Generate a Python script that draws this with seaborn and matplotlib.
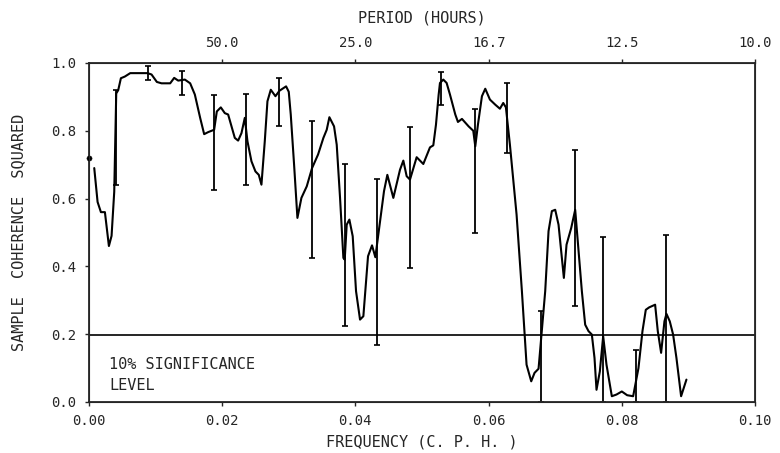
import matplotlib
matplotlib.use("Agg")
import matplotlib.pyplot as plt
import seaborn as sns
import pandas as pd

# ---- data ----
freq = [0.0008, 0.0013, 0.0018, 0.0024, 0.0030, 0.0034, 0.0038, 0.0041, 0.0044, 0.0048,
        0.0054, 0.0062, 0.0088, 0.0094, 0.0102, 0.0109, 0.0122, 0.0128, 0.0134, 0.0144,
        0.0152, 0.0159, 0.0167, 0.0173, 0.0179, 0.0188, 0.0192, 0.0198, 0.0204, 0.0209,
        0.0219, 0.0224, 0.0229, 0.0234, 0.0238, 0.0244, 0.0250, 0.0255, 0.0259, 0.0264,
        0.0268, 0.0273, 0.0280, 0.0286, 0.0296, 0.0300, 0.0303, 0.0308, 0.0313, 0.0319,
        0.0327, 0.0335, 0.0344, 0.0352, 0.0357, 0.0361, 0.0368, 0.0372, 0.0377, 0.0382,
        0.0384, 0.0387, 0.0391, 0.0396, 0.0401, 0.0407, 0.0412, 0.0419, 0.0425, 0.0430,
        0.0439, 0.0443, 0.0448, 0.0457, 0.0467, 0.0472, 0.0477, 0.0482, 0.0492, 0.0502,
        0.0512, 0.0517, 0.0521, 0.0525, 0.0527, 0.0532, 0.0537, 0.0542, 0.0550, 0.0554,
        0.0560, 0.0570, 0.0577, 0.0580, 0.0584, 0.0590, 0.0595, 0.0602, 0.0610, 0.0617,
        0.0622, 0.0626, 0.0632, 0.0642, 0.0650, 0.0657, 0.0664, 0.0669, 0.0675, 0.0685,
        0.0690, 0.0695, 0.0700, 0.0705, 0.0713, 0.0717, 0.0724, 0.0730, 0.0740, 0.0745,
        0.0750, 0.0755, 0.0759, 0.0762, 0.0767, 0.0772, 0.0777, 0.0785, 0.0792, 0.0800,
        0.0808, 0.0817, 0.0825, 0.0831, 0.0836, 0.0841, 0.0850, 0.0854, 0.0859, 0.0864,
        0.0867, 0.0872, 0.0877, 0.0882, 0.0889, 0.0897]
coherence = [0.69, 0.59, 0.56, 0.56, 0.46, 0.49, 0.62, 0.91, 0.92, 0.955,
             0.96, 0.97, 0.97, 0.966, 0.944, 0.94, 0.94, 0.956, 0.948, 0.951,
             0.94, 0.907, 0.838, 0.79, 0.796, 0.803, 0.857, 0.869, 0.852, 0.848,
             0.779, 0.771, 0.793, 0.838, 0.769, 0.71, 0.68, 0.67, 0.641, 0.769,
             0.887, 0.921, 0.902, 0.918, 0.931, 0.915, 0.848, 0.70, 0.543, 0.602,
             0.636, 0.69, 0.73, 0.779, 0.803, 0.84, 0.813, 0.759, 0.602, 0.425,
             0.42, 0.523, 0.538, 0.489, 0.327, 0.243, 0.253, 0.43, 0.462, 0.427,
             0.563, 0.622, 0.67, 0.602, 0.685, 0.712, 0.666, 0.656, 0.722, 0.702,
             0.751, 0.757, 0.818, 0.906, 0.941, 0.951, 0.941, 0.907, 0.848, 0.826,
             0.835, 0.813, 0.80, 0.754, 0.818, 0.902, 0.924, 0.892, 0.877, 0.865,
             0.882, 0.869, 0.759, 0.553, 0.327, 0.11, 0.061, 0.086, 0.098, 0.327,
             0.504, 0.563, 0.567, 0.523, 0.366, 0.464, 0.513, 0.567, 0.327, 0.228,
             0.209, 0.199, 0.13, 0.036, 0.09, 0.194, 0.11, 0.017, 0.022, 0.031,
             0.02, 0.017, 0.10, 0.209, 0.272, 0.279, 0.287, 0.209, 0.145, 0.238,
             0.26, 0.238, 0.199, 0.13, 0.017, 0.066]

# confidence intervals (vertical bars)
ci_freq = [0.0041, 0.0088, 0.0139, 0.0188, 0.0236, 0.0286, 0.0335, 0.0385, 0.0433,
           0.0482, 0.0529, 0.0580, 0.0628, 0.0678, 0.0729, 0.0772, 0.0821, 0.0867]
ci_low = [0.64, 0.95, 0.905, 0.626, 0.639, 0.813, 0.425, 0.223, 0.167,
          0.395, 0.877, 0.499, 0.735, 0.0, 0.282, 0.0, 0.0, 0.0]
ci_high = [0.92, 0.99, 0.975, 0.905, 0.909, 0.956, 0.828, 0.702, 0.659,
           0.81, 0.973, 0.865, 0.941, 0.268, 0.744, 0.487, 0.154, 0.494]

# isolated value at zero frequency
zero_freq = [0.0]
zero_value = [0.72]

significance = 0.197
x_ticks = [0.00, 0.02, 0.04, 0.06, 0.08, 0.10]
y_ticks = [0.0, 0.2, 0.4, 0.6, 0.8, 1.0]
period_ticks = [0.02, 0.04, 0.06, 0.08, 0.10]
period_labels = ["50.0", "25.0", "16.7", "12.5", "10.0"]

# ---- plotting ----
sns.set_style("ticks")
plt.rcParams['font.family'] = ['DejaVu Sans Mono', 'DejaVu Sans']

fig = plt.figure(figsize=(7.8, 4.53), dpi=100)
ax = fig.add_axes([0.114, 0.1126, 0.854, 0.7484])

df = pd.DataFrame({"freq": freq, "coh": coherence})
sns.lineplot(data=df, x="freq", y="coh", sort=False, estimator=None,
             color="black", linewidth=1.5, ax=ax)

ci_mid = [(l + h) / 2 for l, h in zip(ci_low, ci_high)]
ci_err = [[m - l for m, l in zip(ci_mid, ci_low)], [h - m for m, h in zip(ci_mid, ci_high)]]
ax.errorbar(ci_freq, ci_mid, yerr=ci_err, fmt="none", ecolor="black",
            elinewidth=1.3, capsize=2.5, capthick=1.2)

sns.scatterplot(x=zero_freq, y=zero_value, color="black", s=14, marker="o",
                edgecolor="black", ax=ax, clip_on=False, zorder=5)

ax.axhline(significance, color="black", linewidth=1.2)
ax.text(0.003, 0.11, "10% SIGNIFICANCE", fontsize=11, va="center", ha="left")
ax.text(0.003, 0.05, "LEVEL", fontsize=11, va="center", ha="left")

ax.set_xlim(0, 0.10)
ax.set_ylim(0, 1.0)
ax.set_xticks(x_ticks)
ax.set_xticklabels([f"{v:.2f}" for v in x_ticks], fontsize=10)
ax.set_yticks(y_ticks)
ax.set_yticklabels([f"{v:.1f}" for v in y_ticks], fontsize=10)
ax.tick_params(direction="out", length=3, width=1, pad=6)
ax.set_xlabel("FREQUENCY (C. P. H. )", fontsize=11, labelpad=4)
ax.set_ylabel("SAMPLE  COHERENCE  SQUARED", fontsize=11, labelpad=18)
for s in ax.spines.values():
    s.set_linewidth(1.3)
    s.set_visible(True)

ax2 = ax.twiny()
ax2.set_xlim(ax.get_xlim())
ax2.set_xticks(period_ticks)
ax2.set_xticklabels(period_labels, fontsize=10)
ax2.tick_params(direction="out", length=3, width=1, pad=6)
ax2.set_xlabel("PERIOD (HOURS)", fontsize=11, labelpad=10)

fig.savefig("out.png", dpi=100)
